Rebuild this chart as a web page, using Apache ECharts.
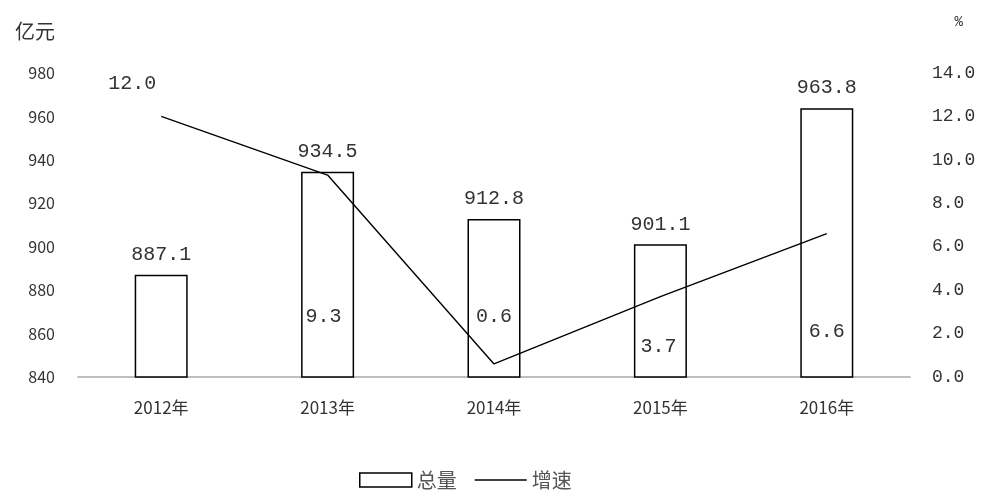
<!DOCTYPE html>
<html><head><meta charset="utf-8">
<script src="https://cdn.jsdelivr.net/npm/echarts@6/dist/echarts.min.js"></script>
<style>html,body{margin:0;padding:0;background:#fff}#c{width:982px;height:501px}</style>
</head><body><div id="c"></div>
<script>
const categories = ['2012年', '2013年', '2014年', '2015年', '2016年'];
const totalValues = [887.1, 934.5, 912.8, 901.1, 963.8];
const growthValues = [12.0, 9.3, 0.6, 3.7, 6.6];
const seriesNames = ['总量', '增速'];

const chart = echarts.init(document.getElementById('c'));
const labelShift = [[-29, -33], [-4, 142], [0, -47], [-2, 50], [0, 98]];
const monoFont = '"Liberation Mono", monospace';

chart.setOption({
  animation: false,
  title: [
    { text: '亿元', left: 10, top: 16, textStyle: { fontSize: 20, fontWeight: 'normal', color: '#333', fontFamily: '"Noto Sans CJK SC"' } },
    { text: '%', right: 14, top: 10, textStyle: { fontSize: 14, fontWeight: 'normal', color: '#333', fontFamily: monoFont } }
  ],
  grid: { left: 78, right: 72, top: 73, bottom: 124 },
  legend: {
    bottom: 6, left: 354,
    itemWidth: 52, itemHeight: 14, itemGap: 18,
    textStyle: { fontSize: 20, color: '#555', fontFamily: '"Noto Sans CJK SC"' },
    data: [
      { name: seriesNames[0], icon: 'rect', itemStyle: { color: '#fff', borderColor: '#000', borderWidth: 1.5 } },
      { name: seriesNames[1], icon: 'path://M0,0L52,0L52,1.6L0,1.6Z', itemStyle: { color: '#000' } }
    ]
  },
  xAxis: {
    type: 'category', data: categories,
    axisLine: { lineStyle: { color: '#aaa', width: 1.5 } },
    axisTick: { show: false },
    axisLabel: { margin: 22, fontSize: 17, color: '#333', fontFamily: '"Noto Sans CJK SC"' }
  },
  yAxis: [
    { type: 'value', min: 840, max: 980, interval: 20,
      axisLine: { show: false }, axisTick: { show: false }, splitLine: { show: false },
      axisLabel: { margin: 23, fontSize: 16, color: '#333', fontFamily: '"Noto Sans CJK SC"' } },
    { type: 'value', min: 0, max: 14, interval: 2,
      axisLine: { show: false }, axisTick: { show: false }, splitLine: { show: false },
      axisLabel: { margin: 22, fontSize: 18, color: '#333', fontFamily: monoFont,
        formatter: v => v.toFixed(1) } }
  ],
  series: [
    { name: seriesNames[0], type: 'bar', data: totalValues, barWidth: 53,
      itemStyle: { color: '#fff', borderColor: '#000', borderWidth: 1.5 },
      label: { show: true, position: 'top', distance: 10, fontSize: 20, color: '#333', fontFamily: monoFont,
        formatter: p => p.value.toFixed(1) } },
    { name: seriesNames[1], type: 'line', yAxisIndex: 1, z: 5, showSymbol: true, symbol: 'circle', symbolSize: 0.1,
      lineStyle: { color: '#000', width: 1.4 }, itemStyle: { color: '#000' },
      data: growthValues.map((v, i) => ({ value: v,
        label: { show: true, position: 'inside', offset: labelShift[i], fontSize: 20, color: '#333', fontFamily: monoFont,
          formatter: p => p.value.toFixed(1) } })) }
  ]
});
</script></body></html>
